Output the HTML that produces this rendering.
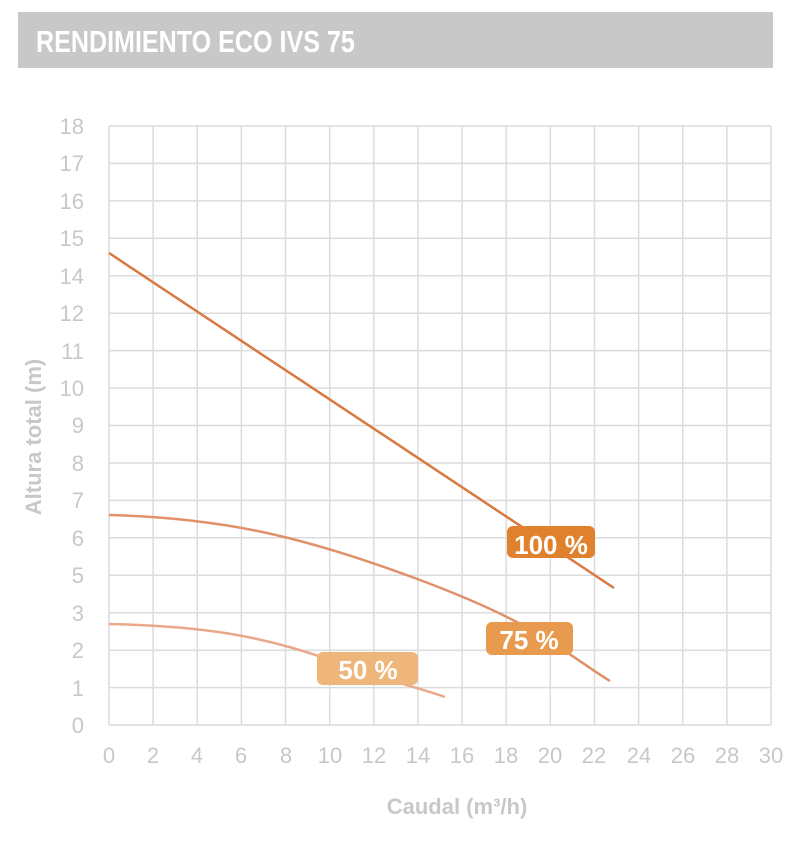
<!DOCTYPE html>
<html><head><meta charset="utf-8"><style>
body{margin:0;background:#fff;width:800px;height:841px;overflow:hidden;font-family:"Liberation Sans",sans-serif}
</style></head><body>
<svg width="800" height="841" xmlns="http://www.w3.org/2000/svg">
<rect x="18" y="12" width="755" height="56" fill="#c8c8c8"/>
<text x="36" y="52" font-family="Liberation Sans Narrow, Liberation Sans, sans-serif" font-weight="bold" font-size="31" fill="#fff" transform="translate(36 0) scale(0.81 1) translate(-36 0)">RENDIMIENTO ECO IVS 75</text>
<g stroke="#dcdcdc" stroke-width="1.5">
<line x1="109" y1="126" x2="771" y2="126"/><line x1="109" y1="163.4" x2="771" y2="163.4"/><line x1="109" y1="200.9" x2="771" y2="200.9"/><line x1="109" y1="238.3" x2="771" y2="238.3"/><line x1="109" y1="275.8" x2="771" y2="275.8"/><line x1="109" y1="313.2" x2="771" y2="313.2"/><line x1="109" y1="350.6" x2="771" y2="350.6"/><line x1="109" y1="388.1" x2="771" y2="388.1"/><line x1="109" y1="425.5" x2="771" y2="425.5"/><line x1="109" y1="463" x2="771" y2="463"/><line x1="109" y1="500.4" x2="771" y2="500.4"/><line x1="109" y1="537.8" x2="771" y2="537.8"/><line x1="109" y1="575.3" x2="771" y2="575.3"/><line x1="109" y1="612.7" x2="771" y2="612.7"/><line x1="109" y1="650.2" x2="771" y2="650.2"/><line x1="109" y1="687.6" x2="771" y2="687.6"/><line x1="109" y1="725" x2="771" y2="725"/>
<line x1="109" y1="126" x2="109" y2="725"/><line x1="153.1" y1="126" x2="153.1" y2="725"/><line x1="197.3" y1="126" x2="197.3" y2="725"/><line x1="241.4" y1="126" x2="241.4" y2="725"/><line x1="285.5" y1="126" x2="285.5" y2="725"/><line x1="329.7" y1="126" x2="329.7" y2="725"/><line x1="373.8" y1="126" x2="373.8" y2="725"/><line x1="417.9" y1="126" x2="417.9" y2="725"/><line x1="462.1" y1="126" x2="462.1" y2="725"/><line x1="506.2" y1="126" x2="506.2" y2="725"/><line x1="550.3" y1="126" x2="550.3" y2="725"/><line x1="594.5" y1="126" x2="594.5" y2="725"/><line x1="638.6" y1="126" x2="638.6" y2="725"/><line x1="682.7" y1="126" x2="682.7" y2="725"/><line x1="726.9" y1="126" x2="726.9" y2="725"/><line x1="771" y1="126" x2="771" y2="725"/>
</g>
<g fill="#c8c8c8" font-size="22" text-anchor="end" font-family="Liberation Sans Narrow, Liberation Sans, sans-serif">
<text x="84" y="134">18</text><text x="84" y="171">17</text><text x="84" y="209">16</text><text x="84" y="246">15</text><text x="84" y="284">14</text><text x="84" y="321">12</text><text x="84" y="359">11</text><text x="84" y="396">10</text><text x="84" y="433">9</text><text x="84" y="471">8</text><text x="84" y="508">7</text><text x="84" y="546">6</text><text x="84" y="583">5</text><text x="84" y="621">3</text><text x="84" y="658">2</text><text x="84" y="696">1</text><text x="84" y="733">0</text>
</g>
<g fill="#c8c8c8" font-size="22" text-anchor="middle" font-family="Liberation Sans Narrow, Liberation Sans, sans-serif">
<text x="109" y="763">0</text><text x="153" y="763">2</text><text x="197" y="763">4</text><text x="241" y="763">6</text><text x="286" y="763">8</text><text x="330" y="763">10</text><text x="374" y="763">12</text><text x="418" y="763">14</text><text x="462" y="763">16</text><text x="506" y="763">18</text><text x="550" y="763">20</text><text x="594" y="763">22</text><text x="639" y="763">24</text><text x="683" y="763">26</text><text x="727" y="763">28</text><text x="771" y="763">30</text>
</g>
<text x="457" y="814" fill="#c8c8c8" font-size="22" text-anchor="middle" font-weight="bold">Caudal (m³/h)</text>
<text transform="translate(41 437) rotate(-90)" fill="#c8c8c8" font-size="22" text-anchor="middle" font-weight="bold">Altura total (m)</text>
<g fill="none" stroke-width="2.5">
<path d="M109 253 L614 588" stroke="#d9783f"/>
<path d="M109 515 C220 518 300 535 420 580 S560 650 610 681" stroke="#e0916a"/>
<path d="M109 624 C200 626 260 635 330 660 S410 685 445 697" stroke="#eaa88a"/>
</g>
<rect x="507" y="526" width="88" height="32" rx="6" fill="#e0812e"/>
<text x="551" y="554" fill="#fff" font-size="26" font-weight="bold" text-anchor="middle">100 %</text>
<rect x="486" y="622" width="87" height="33" rx="6" fill="#e89a4e"/>
<text x="529" y="649" fill="#fff" font-size="26" font-weight="bold" text-anchor="middle">75 %</text>
<rect x="317" y="652" width="101" height="33" rx="6" fill="#efb67c"/>
<text x="368" y="679" fill="#fff" font-size="26" font-weight="bold" text-anchor="middle">50 %</text>
</svg>
</body></html>
